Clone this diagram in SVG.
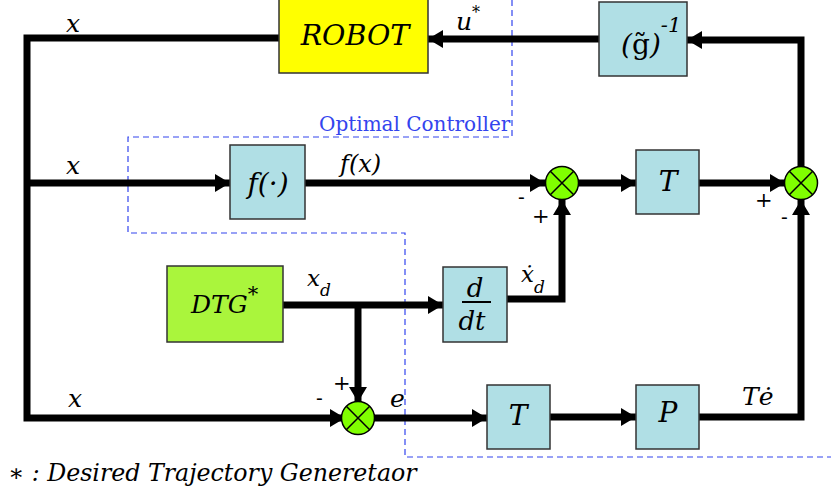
<svg xmlns="http://www.w3.org/2000/svg" width="831" height="496" viewBox="0 0 831 496">
<style>
.box{fill:#b0dfe5;stroke:#333;stroke-width:1.5}
.ln{fill:none;stroke:#000;stroke-width:7}
.sum circle{fill:#80ff00;stroke:#000;stroke-width:1.5}
.sum path{stroke:#000;stroke-width:1.5}
text{font-family:'DejaVu Serif',serif;fill:#000}
.it{font-style:italic}
.dash{fill:none;stroke:#3344ee;stroke-width:1.2;stroke-dasharray:6,4}
</style>
<defs>
<marker id="ah" markerUnits="userSpaceOnUse" markerWidth="16" markerHeight="18" refX="15" refY="9" orient="auto">
<path d="M0,0 L15,9 L0,18 Z" fill="#000"/>
</marker>
</defs>

<path class="dash" d="M512,0 V137 H128 V233 H405 V457 H831"/>
<text x="319" y="131" font-size="20" style="fill:#3344ee">Optimal Controller</text>

<g id="connectors">
<polyline class="ln" points="279,38 27,38 27,418 345,418" marker-end="url(#ah)"/>
<line class="ln" x1="27" y1="183" x2="230" y2="183" marker-end="url(#ah)"/>
<line class="ln" x1="305" y1="183" x2="545" y2="183" marker-end="url(#ah)"/>
<line class="ln" x1="578" y1="183" x2="636" y2="183" stroke-width="8" marker-end="url(#ah)"/>
<line class="ln" x1="699" y1="183" x2="785" y2="183" marker-end="url(#ah)"/>
<polyline class="ln" points="801,167 801,40 687,40" marker-end="url(#ah)"/>
<line class="ln" x1="599" y1="39" x2="428" y2="39" marker-end="url(#ah)"/>
<line class="ln" x1="283" y1="305" x2="443" y2="305" marker-end="url(#ah)"/>
<line class="ln" x1="358" y1="302" x2="358" y2="402" marker-end="url(#ah)"/>
<polyline class="ln" points="507,299 562,299 562,200" marker-end="url(#ah)"/>
<line class="ln" x1="374" y1="418" x2="487" y2="418" marker-end="url(#ah)"/>
<line class="ln" x1="550" y1="417" x2="636" y2="417" marker-end="url(#ah)"/>
<polyline class="ln" points="699,417 801,417 801,200" marker-end="url(#ah)"/>
</g>

<g id="robot">
<rect x="279" y="-1" width="149" height="74" fill="#ffff00" stroke="#333" stroke-width="1.5"/>
<text class="it" x="355" y="45" font-size="28.5" text-anchor="middle">ROBOT</text>
</g>

<g id="ginv">
<rect class="box" x="599" y="2" width="88" height="74"/>
<text class="it" x="621" y="54" font-size="28">(<tspan font-style="normal">g̃</tspan>)<tspan dy="-22" font-size="21">-1</tspan></text>
</g>

<g id="f">
<rect class="box" x="230" y="145" width="75" height="74"/>
<text class="it" x="268" y="193" font-size="28" text-anchor="middle">f(·)</text>
</g>

<g id="T1">
<rect class="box" x="636" y="150" width="63" height="64"/>
<text class="it" x="668" y="191" font-size="28" text-anchor="middle">T</text>
</g>

<g id="sum1" class="sum">
<circle cx="562" cy="183" r="16.5"/>
<path d="M550.3,171.3 L573.7,194.7 M573.7,171.3 L550.3,194.7"/>
</g>

<g id="sum2" class="sum">
<circle cx="801" cy="183" r="16.5"/>
<path d="M789.3,171.3 L812.7,194.7 M812.7,171.3 L789.3,194.7"/>
</g>

<g id="sum3" class="sum">
<circle cx="358" cy="418" r="16.5"/>
<path d="M346.3,406.3 L369.7,429.7 M369.7,406.3 L346.3,429.7"/>
</g>

<g id="dtg">
<rect x="167" y="266" width="116" height="76" fill="#aaf53c" stroke="#333" stroke-width="1.5"/>
<text class="it" x="191" y="313" font-size="25">DTG<tspan dy="-12" font-size="21" font-style="normal">*</tspan></text>
</g>

<g id="ddt">
<rect class="box" x="443" y="267" width="64" height="75"/>
<text class="it" x="475" y="297" font-size="26" text-anchor="middle">d</text>
<line x1="462" y1="302" x2="491" y2="302" stroke="#000" stroke-width="2"/>
<text class="it" x="472" y="330" font-size="26" text-anchor="middle">dt</text>
</g>

<g id="T2">
<rect class="box" x="487" y="385" width="63" height="64"/>
<text class="it" x="518" y="425" font-size="28" text-anchor="middle">T</text>
</g>

<g id="P">
<rect class="box" x="636" y="385" width="63" height="64"/>
<text class="it" x="668" y="422" font-size="28" text-anchor="middle">P</text>
</g>

<g id="labels">
<text class="it" x="66" y="32" font-size="25">x</text>
<text class="it" x="66" y="174" font-size="25">x</text>
<text class="it" x="68" y="407" font-size="25">x</text>
<text class="it" x="456" y="30" font-size="25">u<tspan dy="-12" font-size="16" font-style="normal">*</tspan></text>
<text class="it" x="340" y="172" font-size="24">f(x)</text>
<text class="it" x="307" y="286" font-size="23">x<tspan dy="10" font-size="17">d</tspan></text>
<text class="it" x="521" y="282" font-size="23">ẋ<tspan dy="11" font-size="17">d</tspan></text>
<text class="it" x="742" y="405" font-size="25">Tė</text>
<text class="it" x="390" y="407" font-size="25">e</text>
<text x="518" y="204" font-size="20">-</text>
<text x="532" y="223" font-size="21">+</text>
<text x="755" y="207" font-size="21">+</text>
<text x="781" y="224" font-size="20">-</text>
<text x="316" y="405" font-size="20">-</text>
<text x="333" y="390" font-size="21">+</text>
<text class="it" x="8" y="481" font-size="23.7"><tspan font-style="normal">∗</tspan> : Desired Trajectory Generetaor</text>
</g>
</svg>
